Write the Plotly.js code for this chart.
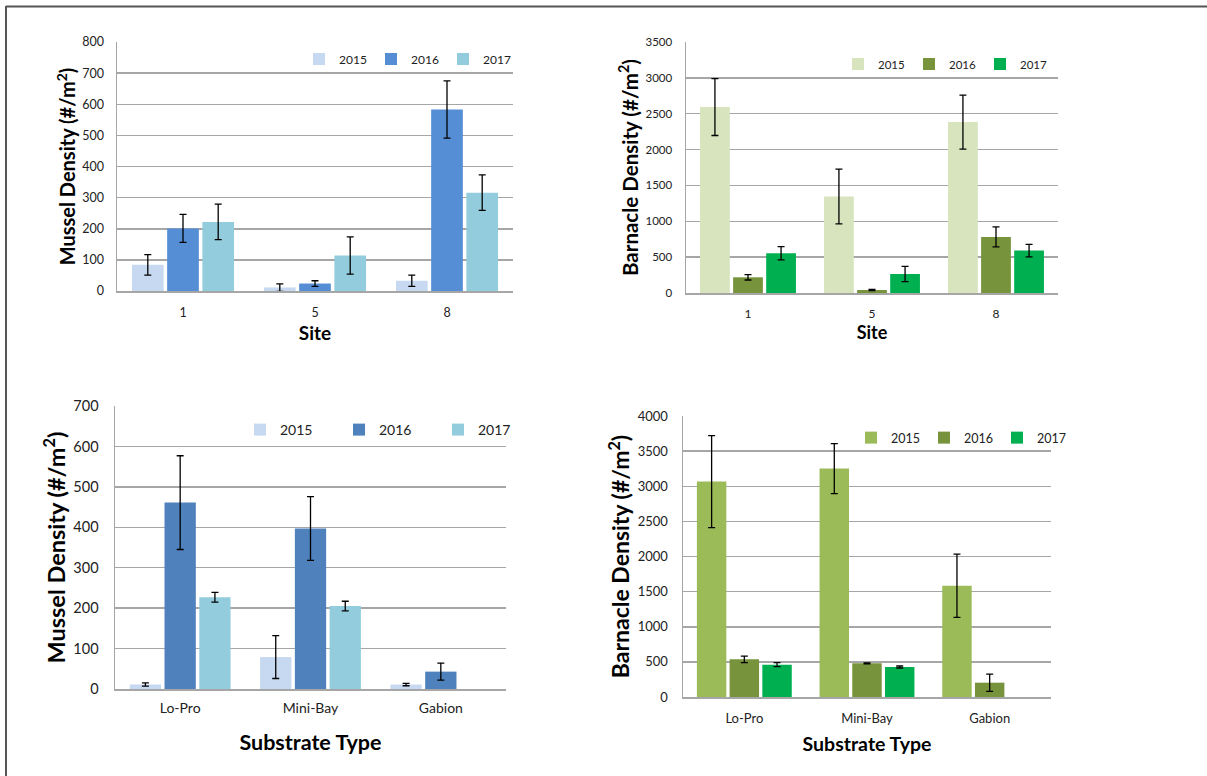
<!DOCTYPE html>
<html><head><meta charset="utf-8">
<script src="https://cdn.plot.ly/plotly-3.0.1.min.js"></script>
<style>html,body{margin:0;padding:0;background:#fff;}#chart{width:1207px;height:776px;}</style>
</head><body><div id="chart"></div>
<script>
// ---- data ----
const years = ['2015', '2016', '2017'];
const sites = ['1', '5', '8'];
const substrates = ['Lo-Pro', 'Mini-Bay', 'Gabion'];

// Mussel density by site
const musselSite2015 = [84, 11, 33];
const musselSite2016 = [201, 24, 583];
const musselSite2017 = [222, 114, 316];
const musselSiteErr2015 = [33, 12, 18];
const musselSiteErr2016 = [45, 9, 92];
const musselSiteErr2017 = [57, 60, 57];

// Barnacle density by site
const barnSite2015 = [2592, 1345, 2383];
const barnSite2016 = [219, 42, 782];
const barnSite2017 = [554, 265, 591];
const barnSiteErr2015 = [396, 381, 377];
const barnSiteErr2016 = [38, 8, 139];
const barnSiteErr2017 = [93, 107, 88];

// Mussel density by substrate
const musselSub2015 = [11, 79, 11];
const musselSub2016 = [461, 397, 43];
const musselSub2017 = [227, 205, null];
const musselSubErr2015 = [4, 53, 3];
const musselSubErr2016 = [116, 79, 21];
const musselSubErr2017 = [12, 12, null];

// Barnacle density by substrate
const barnSub2015 = [3066, 3251, 1583];
const barnSub2016 = [536, 479, 204];
const barnSub2017 = [460, 427, null];
const barnSubErr2015 = [654, 356, 450];
const barnSubErr2016 = [47, 8, 123];
const barnSubErr2017 = [28, 14, null];

// ---- styling ----
const FONT = 'Lato, "Open Sans", sans-serif';
const W = 1207, H = 776;
const px = v => v / W;
const py = v => 1 - v / H;

function bar(x, y, err, color, name, xa, ya, leg) {
  return {
    type: 'bar', x: x, y: y, name: name, xaxis: xa, yaxis: ya, legend: leg,
    marker: {color: color, line: {width: 0}},
    error_y: {type: 'data', array: err, visible: true, color: '#000', thickness: 1.3, width: 3.5},
    hoverinfo: 'x+y'
  };
}

const cTL = ['#C6D9F1', '#558ED5', '#93CDDD'];
const cTR = ['#D7E4BD', '#77933C', '#00B050'];
const cBL = ['#C6D9F1', '#4F81BD', '#93CDDD'];
const cBR = ['#9BBB59', '#77933C', '#00B050'];

const data = [
  bar(sites, musselSite2015, musselSiteErr2015, cTL[0], years[0], 'x', 'y', 'legend'),
  bar(sites, musselSite2016, musselSiteErr2016, cTL[1], years[1], 'x', 'y', 'legend'),
  bar(sites, musselSite2017, musselSiteErr2017, cTL[2], years[2], 'x', 'y', 'legend'),
  bar(sites, barnSite2015, barnSiteErr2015, cTR[0], years[0], 'x2', 'y2', 'legend2'),
  bar(sites, barnSite2016, barnSiteErr2016, cTR[1], years[1], 'x2', 'y2', 'legend2'),
  bar(sites, barnSite2017, barnSiteErr2017, cTR[2], years[2], 'x2', 'y2', 'legend2'),
  bar(substrates, musselSub2015, musselSubErr2015, cBL[0], years[0], 'x3', 'y3', 'legend3'),
  bar(substrates, musselSub2016, musselSubErr2016, cBL[1], years[1], 'x3', 'y3', 'legend3'),
  bar(substrates, musselSub2017, musselSubErr2017, cBL[2], years[2], 'x3', 'y3', 'legend3'),
  bar(substrates, barnSub2015, barnSubErr2015, cBR[0], years[0], 'x4', 'y4', 'legend4'),
  bar(substrates, barnSub2016, barnSubErr2016, cBR[1], years[1], 'x4', 'y4', 'legend4'),
  bar(substrates, barnSub2017, barnSubErr2017, cBR[2], years[2], 'x4', 'y4', 'legend4')
];

function xax(domain, anchor, title, tsize, tstand, ticksize, lstand) {
  return {
    domain: domain, anchor: anchor, type: 'category',
    showline: true, linecolor: '#A6A6A6', linewidth: 1.5, mirror: false,
    showgrid: false, zeroline: false, ticks: '', ticklabelstandoff: lstand,
    tickfont: {family: FONT, size: ticksize, color: '#222'},
    title: {text: title, font: {family: FONT, size: tsize, color: '#000', weight: 'bold'}, standoff: tstand}
  };
}
function yax(domain, anchor, range, dtick, title, tsize, tstand, ticksize, lstand) {
  return {
    domain: domain, anchor: anchor, range: range, dtick: dtick, tick0: 0,
    showline: true, linecolor: '#A6A6A6', linewidth: 1.5,
    showgrid: true, gridcolor: '#A6A6A6', gridwidth: 1.5, zeroline: false,
    ticks: '', ticklabelstandoff: lstand,
    tickfont: {family: FONT, size: ticksize, color: '#222'},
    title: {text: title, font: {family: FONT, size: tsize, color: '#000', weight: 'bold'}, standoff: tstand}
  };
}
function legend(xl, yc, ew, fs) {
  return {
    orientation: 'h', x: px(xl), y: py(yc), xanchor: 'left', yanchor: 'middle',
    bgcolor: 'rgba(0,0,0,0)', borderwidth: 0, entrywidth: ew, entrywidthmode: 'pixels',
    font: {family: FONT, size: fs, color: '#222'}, traceorder: 'normal', itemclick: false
  };
}

const layout = {
  width: W, height: H, margin: {l: 0, r: 0, t: 0, b: 0},
  paper_bgcolor: '#fff', plot_bgcolor: '#fff',
  barmode: 'group', bargap: 0.2, bargroupgap: 0.1,
  font: {family: FONT},
  xaxis:  xax([px(117), px(513)], 'y',  'Site', 19, 8, 12.5, 9),
  yaxis:  yax([py(291), py(42)], 'x', [0, 800], 100, 'Mussel Density (#/m<sup>2</sup>)', 20, 1, 12.5, 9),
  xaxis2: xax([px(686), px(1058)], 'y2', 'Site', 18, 5, 12, 9),
  yaxis2: yax([py(293), py(42)], 'x2', [0, 3500], 500, 'Barnacle Density (#/m<sup>2</sup>)', 20.5, 1, 11.5, 10),
  xaxis3: xax([px(115), px(506)], 'y3', 'Substrate Type', 21.5, 19, 14, 6),
  yaxis3: yax([py(689), py(406)], 'x3', [0, 700], 100, 'Mussel Density (#/m<sup>2</sup>)', 23.5, 1, 14.5, 12),
  xaxis4: xax([px(683), px(1051)], 'y4', 'Substrate Type', 19.5, 12, 13, 9),
  yaxis4: yax([py(697), py(416)], 'x4', [0, 4000], 500, 'Barnacle Density (#/m<sup>2</sup>)', 23, 1, 13, 11),
  legend:  legend(299, 59, 27, 12),
  legend2: legend(838, 64, 26, 11.5),
  legend3: legend(240, 430, 54, 14),
  legend4: legend(851, 438, 28, 12.5),
  shapes: [
    {type: 'line', xref: 'paper', yref: 'paper', x0: px(6), x1: 1, y0: py(6.5), y1: py(6.5), line: {color: '#555', width: 2}},
    {type: 'line', xref: 'paper', yref: 'paper', x0: px(6), x1: px(6), y0: py(6), y1: 0, line: {color: '#555', width: 2}}
  ]
};

Plotly.newPlot('chart', data, layout, {displayModeBar: false, staticPlot: true});
</script></body></html>
